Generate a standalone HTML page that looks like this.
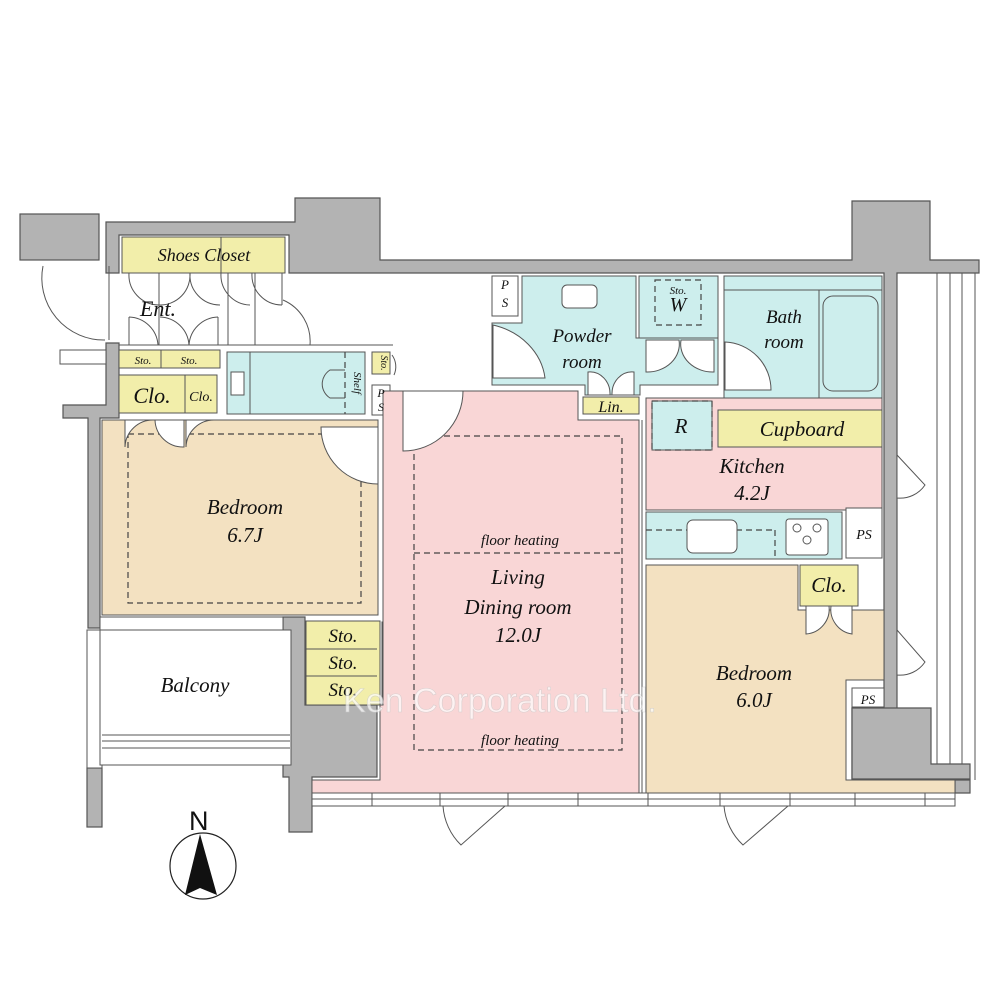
<!DOCTYPE html>
<html><head><meta charset="utf-8"><style>
html,body{margin:0;padding:0;background:#fff;}
svg{display:block;}
text{font-family:"Liberation Serif",serif;font-style:italic;fill:#111;}
</style></head><body>
<svg width="1000" height="1000" viewBox="0 0 1000 1000" xmlns="http://www.w3.org/2000/svg">
<defs><style>.g{fill:#b3b3b3;stroke:#555;stroke-width:1.2}.w{fill:#fff;stroke:#555;stroke-width:1}.l{fill:none;stroke:#555;stroke-width:1}.d{fill:none;stroke:#444;stroke-width:1.2;stroke-dasharray:6 4}.y{fill:#f2eeaa;stroke:#555;stroke-width:1}.c{fill:#cdeeed;stroke:#555;stroke-width:1}.p{fill:#f9d6d6;stroke:#555;stroke-width:1}.b{fill:#f3e1c1;stroke:#555;stroke-width:1}</style></defs>

<!-- gray walls -->
<rect class="g" x="20" y="214" width="79" height="46"/>
<path class="g" d="M106 222 H295 V198 H380 V260 H852 V201 H930 V260 H979 V273 H897 V780 H970 V793 H955 V780 H852 V708 H884 V273 H289 V235 H119 V273 H106 Z"/>
<path class="g" d="M852 708 H931 V764 H970 V779 H852 Z"/>
<path class="g" d="M106 343 H119 V418 H100 V628 H88 V418 H63 V405 H106 Z"/>
<path class="g" d="M283 617 H305 V705 H377 V777 H312 V832 H289 V777 H283 Z"/>
<rect class="g" x="87" y="768" width="15" height="59"/>
<rect class="w" x="87" y="630" width="15" height="138"/>
<rect class="w" x="60" y="350" width="46" height="14"/>

<!-- balcony right -->
<line class="l" x1="937" y1="273" x2="937" y2="764"/><line class="l" x1="950" y1="273" x2="950" y2="764"/><line class="l" x1="962" y1="273" x2="962" y2="764"/><line class="l" x1="975" y1="273" x2="975" y2="780"/>

<!-- balcony left -->
<rect class="w" x="100" y="630" width="191" height="135"/>
<line class="l" x1="102" y1="735" x2="290" y2="735"/><line class="l" x1="102" y1="741" x2="290" y2="741"/><line class="l" x1="102" y1="748" x2="290" y2="748"/>
<rect class="w" x="100" y="617" width="183" height="13"/>

<!-- shoes closet -->
<rect class="y" x="122" y="237" width="163" height="36"/>
<line class="l" x1="221" y1="237" x2="221" y2="273"/>
<rect class="y" x="119" y="350" width="101" height="18"/><line class="l" x1="161" y1="350" x2="161" y2="368"/>
<rect class="y" x="119" y="375" width="98" height="38"/><line class="l" x1="185" y1="375" x2="185" y2="413"/>

<!-- entrance doors -->
<path class="l" d="M43 266 A62 62 0 0 0 105 340 M109 266 V340"/>
<path class="l" d="M129 273 A30 30 0 0 0 159 305 M159 273 V345 M190 273 A30 30 0 0 1 159 305 M190 273 A30 30 0 0 0 220 305 M221 273 A30 30 0 0 0 250 305 M252 273 A30 30 0 0 0 282 305 M282 273 V305 M283 300 A45 45 0 0 1 310 345 M255 273 V345 M228 273 V345"/>
<path class="l" d="M129 317 V345 M129 317 A30 30 0 0 1 158 345 M218 317 V345 M218 317 A30 30 0 0 0 189 345 M189 345 A30 30 0 0 0 160 317"/>
<line class="l" x1="119" y1="345" x2="393" y2="345"/>

<!-- toilet -->
<rect class="c" x="227" y="352" width="138" height="62"/>
<line class="l" x1="250" y1="352" x2="250" y2="414"/>
<rect class="w" x="231" y="372" width="13" height="23"/>
<path class="l" d="M345 370 H330 A18 17 0 0 0 330 398 H345"/>
<line class="d" x1="345" y1="352" x2="345" y2="414"/>
<rect class="y" x="372" y="352" width="18" height="22"/>
<rect class="w" x="372" y="385" width="18" height="30"/>
<path class="l" d="M392 355 A20 20 0 0 1 394 375"/>

<!-- bedroom 6.7 -->
<rect class="b" x="102" y="420" width="276" height="195"/>
<rect class="d" x="128" y="434" width="233" height="169"/>
<path class="w" d="M125 420 V447 A28 28 0 0 1 154 420 Z M155 420 A28 28 0 0 0 184 447 V420 Z M186 420 V447 A28 28 0 0 1 214 420 Z"/>
<path class="w" d="M321 427 H378 V484 A57 57 0 0 1 321 427 Z"/>

<!-- sto stack -->
<rect class="y" x="306" y="621" width="74" height="84"/>
<line class="l" x1="306" y1="649" x2="377" y2="649"/><line class="l" x1="306" y1="676" x2="377" y2="676"/>
<path class="w" d="M382 622 H408 A22 15 0 0 1 382 649 Z M382 649 H408 A22 15 0 0 1 382 676 Z M382 676 H408 A22 15 0 0 1 382 703 Z"/>

<!-- living -->
<path class="p" d="M383 391 H578 V420 H639 V793 H312 V780 H380 V705 H383 Z"/>
<rect class="d" x="414" y="436" width="208" height="314"/>
<line class="d" x1="414" y1="553" x2="622" y2="553"/>
<path class="w" d="M403 391 H463 A60 60 0 0 1 403 451 Z"/>
<rect class="y" x="583" y="397" width="56" height="17"/>

<!-- PS top / powder -->
<rect class="w" x="492" y="276" width="26" height="40"/>
<path class="c" d="M522 276 H636 V338 H718 V385 H640 V395 H585 V385 H492 V323 H522 Z"/>
<rect class="w" x="562" y="285" width="35" height="23" rx="5"/>
<path class="w" d="M493 325 A70 62 0 0 1 545 378 H493 Z"/>
<path class="w" d="M588 395 V372 A20 22 0 0 1 610 395 Z M612 395 A20 22 0 0 1 634 372 V395 Z"/>
<rect class="c" x="639" y="276" width="79" height="62"/>
<rect class="d" x="655" y="280" width="46" height="45"/>
<path class="w" d="M646 340 V372 A32 28 0 0 0 679 340 Z M681 340 A32 28 0 0 0 714 372 V340 Z"/>

<!-- bath -->
<rect class="c" x="724" y="276" width="158" height="128"/>
<line class="l" x1="724" y1="290" x2="882" y2="290"/>
<line class="l" x1="819" y1="290" x2="819" y2="404"/>
<rect class="c" x="823" y="296" width="55" height="95" rx="10"/>
<path class="w" d="M725 342 A48 48 0 0 1 771 390 H725 Z"/>

<!-- kitchen -->
<rect class="p" x="646" y="398" width="236" height="112"/>
<rect class="c" x="652" y="401" width="60" height="49"/>
<rect class="d" x="652" y="401" width="60" height="49"/>
<rect class="y" x="718" y="410" width="164" height="37"/>
<rect class="c" x="646" y="512" width="196" height="47"/>
<line class="d" x1="646" y1="530" x2="775" y2="530"/><line class="d" x1="775" y1="530" x2="775" y2="559"/>
<rect class="w" x="687" y="520" width="50" height="33" rx="6"/>
<rect class="w" x="786" y="519" width="42" height="36" rx="3"/>
<circle class="l" cx="797" cy="528" r="4"/><circle class="l" cx="817" cy="528" r="4"/><circle class="l" cx="807" cy="540" r="4"/>
<rect class="w" x="846" y="508" width="36" height="50"/>
<path class="w" d="M897 455 L925 485 A30 30 0 0 1 897 498 Z"/>

<!-- bedroom 6.0 -->
<path class="b" d="M646 565 H798 V610 H884 V680 H846 V780 H955 V793 H646 Z"/>
<rect class="y" x="800" y="565" width="58" height="41"/>
<path class="w" d="M806 606 V634 A25 25 0 0 0 829 606 Z M831 606 A25 25 0 0 0 852 634 V606 Z"/>
<rect class="w" x="852" y="688" width="32" height="19"/>
<path class="w" d="M897 630 L925 662 A30 30 0 0 1 897 675 Z"/>
<line class="l" x1="642" y1="420" x2="642" y2="793"/>

<!-- bottom windows -->
<rect class="w" x="312" y="793" width="643" height="13"/>
<line class="l" x1="312" y1="799" x2="955" y2="799"/>
<g class="l"><line x1="372" y1="793" x2="372" y2="806"/><line x1="440" y1="793" x2="440" y2="806"/><line x1="508" y1="793" x2="508" y2="806"/><line x1="578" y1="793" x2="578" y2="806"/><line x1="648" y1="793" x2="648" y2="806"/><line x1="720" y1="793" x2="720" y2="806"/><line x1="790" y1="793" x2="790" y2="806"/><line x1="855" y1="793" x2="855" y2="806"/><line x1="925" y1="793" x2="925" y2="806"/></g>
<path class="w" d="M443 806 H505 L461 845 A60 60 0 0 1 443 806 Z"/>
<path class="w" d="M724 806 H788 L743 845 A60 60 0 0 1 724 806 Z"/>

<!-- compass -->
<circle cx="203" cy="866" r="33" fill="#fff" stroke="#222" stroke-width="1.2"/>
<path d="M200 834 L185 895 L200 888 L217 895 Z" fill="#111"/>
<text x="189" y="830" style="font-family:'Liberation Sans',sans-serif;font-style:normal;font-size:27px">N</text>

<!-- labels -->
<g text-anchor="middle">
<text x="204" y="261" font-size="18">Shoes Closet</text>
<text x="158" y="316" font-size="22">Ent.</text>
<text x="143" y="364" font-size="11">Sto.</text><text x="189" y="364" font-size="11">Sto.</text>
<text x="152" y="403" font-size="22">Clo.</text><text x="201" y="401" font-size="14">Clo.</text>
<text x="245" y="514" font-size="21">Bedroom</text><text x="245" y="542" font-size="21">6.7J</text>
<text x="195" y="692" font-size="21">Balcony</text>
<text x="343" y="642" font-size="19">Sto.</text><text x="343" y="669" font-size="19">Sto.</text><text x="343" y="696" font-size="19">Sto.</text>
<text x="520" y="545" font-size="15">floor heating</text>
<text x="518" y="584" font-size="21">Living</text><text x="518" y="614" font-size="21">Dining room</text><text x="518" y="642" font-size="21">12.0J</text>
<text x="520" y="745" font-size="15">floor heating</text>
<text x="582" y="342" font-size="19">Powder</text><text x="582" y="368" font-size="19">room</text>
<text x="678" y="294" font-size="11">Sto.</text><text x="678" y="311" font-size="20">W</text>
<text x="784" y="323" font-size="19">Bath</text><text x="784" y="348" font-size="19">room</text>
<text x="611" y="412" font-size="16">Lin.</text>
<text x="681" y="433" font-size="21">R</text>
<text x="802" y="436" font-size="21">Cupboard</text>
<text x="752" y="473" font-size="21">Kitchen</text><text x="752" y="500" font-size="21">4.2J</text>
<text x="864" y="539" font-size="14">PS</text>
<text x="829" y="592" font-size="21">Clo.</text>
<text x="754" y="680" font-size="21">Bedroom</text><text x="754" y="707" font-size="21">6.0J</text>
<text x="868" y="704" font-size="13">PS</text>
<text x="505" y="289" font-size="13">P</text><text x="505" y="307" font-size="13">S</text>
<text x="381" y="397" font-size="12">P</text><text x="381" y="411" font-size="12">S</text>
<text x="381" y="363" font-size="10" transform="rotate(90 381 363)">Sto.</text>
<text x="354" y="383" font-size="11" transform="rotate(90 354 383)">Shelf</text>
</g>
<text x="500" y="712" text-anchor="middle" style="font-family:'Liberation Sans',sans-serif;font-style:normal;font-size:34px;fill:#fff;stroke:#ccc;stroke-width:0.6;opacity:0.7">Ken Corporation Ltd.</text>
</svg>
</body></html>
